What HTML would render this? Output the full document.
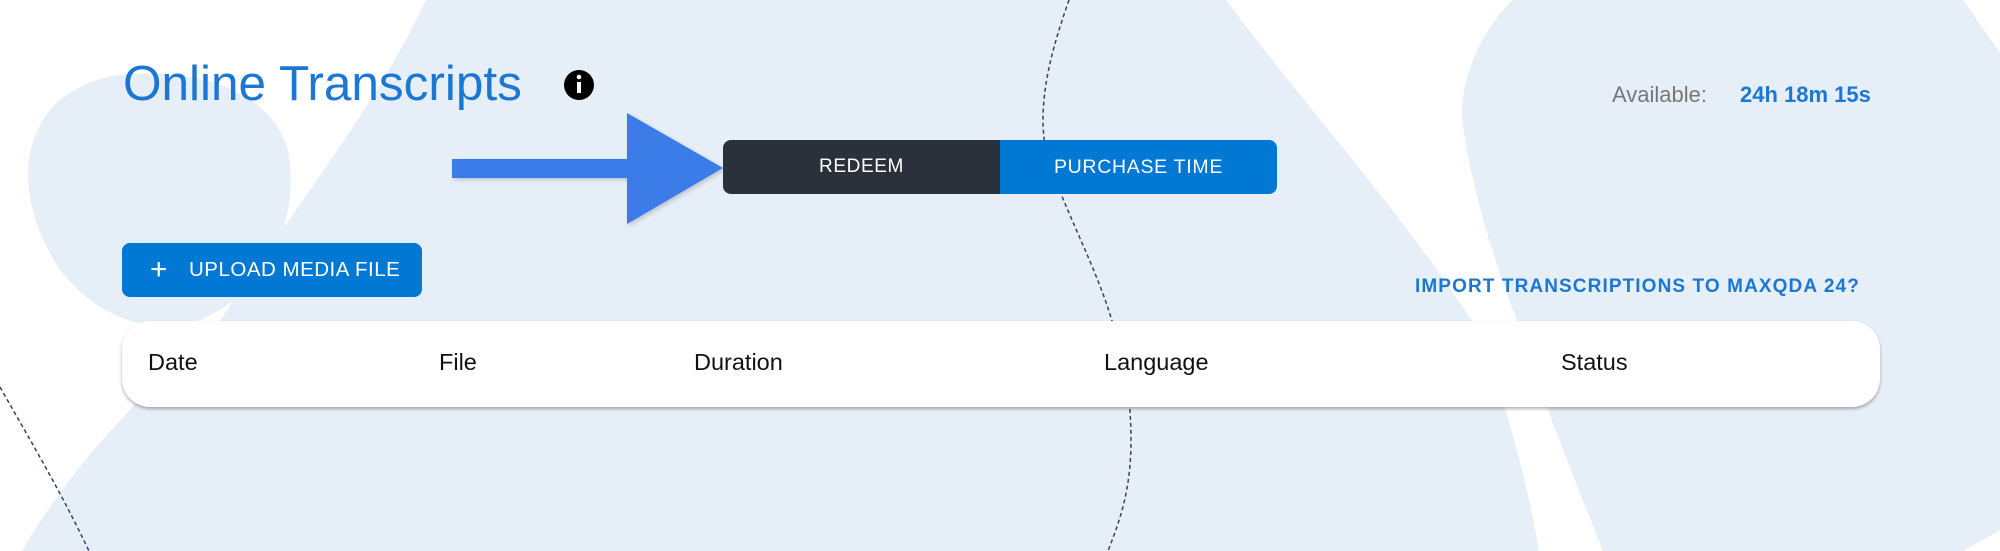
<!DOCTYPE html>
<html><head><meta charset="utf-8"><style>
html,body{margin:0;padding:0}
body{width:2000px;height:551px;position:relative;overflow:hidden;background:#fff;font-family:"Liberation Sans",Arial,sans-serif}
.abs{position:absolute}
</style></head><body>
<svg class="abs" style="left:0;top:0" width="2000" height="551" viewBox="0 0 2000 551">
<path d="M426,0 L1226,0 C1300,100 1400,210 1472,321 C1500,380 1525,470 1539,551 L22,551 C80,450 160,380 220,321 C300,200 380,100 426,0 Z" fill="#e6eef8"/>
<path d="M128,74 C200,70 270,90 288,150 C300,220 270,290 200,320 C150,335 100,320 60,270 C20,210 15,140 60,100 C80,85 100,76 128,74 Z" fill="#e6eef8"/>
<path d="M1513,0 L1963,0 L2000,53 L2000,530 L1963,551 L1603,551 C1575,480 1550,420 1517,321 C1490,250 1470,180 1462,119 C1460,70 1490,20 1513,0 Z" fill="#e6eef8"/>
<path d="M1069,0 C1055,40 1043,80 1043,120 C1043,150 1052,175 1061,194 C1080,240 1100,280 1112,321 C1125,360 1131,400 1131,440 C1131,490 1120,520 1108,551" fill="none" stroke="#2e4468" stroke-width="1.5" stroke-dasharray="4,3"/>
<path d="M0,387 C30,440 60,490 89,551" fill="none" stroke="#2e4468" stroke-width="1.5" stroke-dasharray="4,3"/>
<defs><filter id="sh" x="-10%" y="-10%" width="130%" height="130%"><feDropShadow dx="2" dy="2" stdDeviation="2" flood-color="#000" flood-opacity="0.18"/></filter></defs>
<path d="M452,159 L627,159 L627,113 L723,168 L627,224 L627,178 L452,178 Z" fill="#3a7be8" filter="url(#sh)"/>
<circle cx="579" cy="85" r="15" fill="#000"/>
<rect x="577" y="82" width="4" height="11" fill="#fff"/><circle cx="579" cy="77" r="2.3" fill="#fff"/>
</svg>
<div class="abs" style="left:123px;top:55px;font-size:49.5px;color:#1a77d2;white-space:nowrap">Online Transcripts</div>
<div class="abs" style="left:723px;top:140px;width:277px;height:54px;background:#2b313b;border-radius:8px 0 0 8px;color:#fff;font-size:19px;letter-spacing:0.6px;line-height:54px;text-align:center">REDEEM</div>
<div class="abs" style="left:1000px;top:140px;width:277px;height:54px;background:#0078d4;border-radius:0 8px 8px 0;color:#fff;font-size:19.5px;letter-spacing:0.7px;line-height:54px;text-align:center">PURCHASE TIME</div>
<div class="abs" style="left:1612px;top:82px;font-size:22px;color:#777;white-space:nowrap">Available:</div>
<div class="abs" style="left:1740px;top:82px;font-size:22px;font-weight:bold;color:#1a77d2;white-space:nowrap">24h 18m 15s</div>
<div class="abs" style="left:122px;top:243px;width:300px;height:54px;background:#0078d4;border-radius:8px;color:#fff;font-size:20.5px;letter-spacing:0.5px;line-height:54px;white-space:nowrap">
<span style="position:absolute;left:28px;top:0;font-size:30px;font-weight:300">+</span><span style="position:absolute;left:67px">UPLOAD MEDIA FILE</span></div>
<div class="abs" style="left:1415px;top:276px;font-size:19px;font-weight:bold;letter-spacing:1.1px;color:#1a77d2;white-space:nowrap">IMPORT TRANSCRIPTIONS TO MAXQDA 24?</div>
<div class="abs" style="left:122px;top:321px;width:1758px;height:86px;background:#fff;border-radius:28px;box-shadow:0 2px 3px rgba(0,0,0,0.3)"></div>
<div class="abs" style="top:349px;left:148px;font-size:23.5px;color:#111">Date</div>
<div class="abs" style="top:349px;left:439px;font-size:23.5px;color:#111">File</div>
<div class="abs" style="top:349px;left:694px;font-size:23.5px;color:#111">Duration</div>
<div class="abs" style="top:349px;left:1104px;font-size:23.5px;color:#111">Language</div>
<div class="abs" style="top:349px;left:1561px;font-size:23.5px;color:#111">Status</div>
</body></html>
